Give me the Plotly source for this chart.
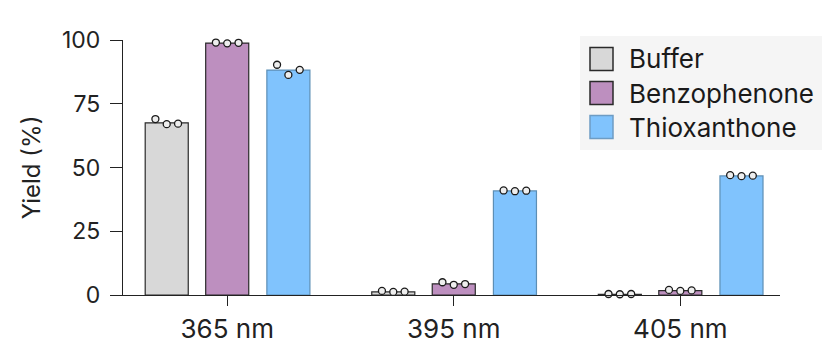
import plotly.graph_objects as go

categories = ["365 nm", "395 nm", "405 nm"]
series_names = ["Buffer", "Benzophenone", "Thioxanthone"]
bar_means = {
    "Buffer": [67.5, 1.2, 0.3],
    "Benzophenone": [98.8, 4.4, 1.7],
    "Thioxanthone": [88.2, 40.8, 46.7],
}
replicates = {
    "Buffer": [[69.0, 67.0, 67.2], [1.6, 1.2, 1.3], [0.4, 0.3, 0.4]],
    "Benzophenone": [[99.0, 98.7, 98.9], [5.0, 4.0, 4.3], [2.0, 1.6, 1.8]],
    "Thioxanthone": [[90.3, 86.3, 88.3], [41.0, 40.7, 40.9], [47.0, 46.6, 46.8]],
}
y_ticks = [0, 25, 50, 75, 100]

colors = {"Buffer": "#d8d8d8", "Benzophenone": "#bd8fbf", "Thioxanthone": "#80c3fd"}
edges = {"Buffer": "#2a2a2a", "Benzophenone": "#2a2a2a", "Thioxanthone": "#5d8fb5"}
offsets = {"Buffer": -0.267, "Benzophenone": 0.0, "Thioxanthone": 0.27}
pt_offsets = [-0.05, 0.0, 0.05]
bar_w = 0.19

fig = go.Figure()
for name in series_names:
    xs = [i + offsets[name] for i in range(len(categories))]
    fig.add_trace(go.Bar(
        x=xs, y=bar_means[name], width=bar_w, name=name, showlegend=False,
        marker=dict(color=colors[name], line=dict(color=edges[name], width=1.2)),
    ))
for name in series_names:
    px, py = [], []
    for i in range(len(categories)):
        for j, v in enumerate(replicates[name][i]):
            px.append(i + offsets[name] + pt_offsets[j])
            py.append(v)
    fig.add_trace(go.Scatter(
        x=px, y=py, mode="markers", showlegend=False, cliponaxis=False,
        marker=dict(size=7, color="#eeeeee", line=dict(color="#1a1a1a", width=1.3)),
    ))

# Custom legend (paper coords; plot area is 657 x 255 px)
PW, PH, L, B = 657.0, 255.0, 123.0, 295.0
def pxx(x):
    return (x - L) / PW
def pxy(y):
    return (B - y) / PH

shapes = [dict(type="rect", xref="paper", yref="paper", layer="below",
               x0=pxx(580), x1=pxx(822), y0=pxy(150), y1=pxy(36),
               fillcolor="#f5f5f5", line=dict(width=0))]
annotations = []
row_centers = [59, 93, 127]
for name, yc in zip(series_names, row_centers):
    shapes.append(dict(type="rect", xref="paper", yref="paper",
                       x0=pxx(590), x1=pxx(613), y0=pxy(yc + 11.5), y1=pxy(yc - 11.5),
                       fillcolor=colors[name], line=dict(color=edges[name] if name != "Thioxanthone" else "#6d9cc4", width=1.5)))
    annotations.append(dict(xref="paper", yref="paper", x=pxx(627), y=pxy(yc),
                            xanchor="left", yanchor="middle", showarrow=False,
                            text=name, font=dict(size=26, color="#1a1a1a")))

fig.update_layout(
    width=822, height=358,
    margin=dict(l=123, r=42, t=40, b=63),
    plot_bgcolor="white", paper_bgcolor="white",
    font=dict(family="Inter, Roboto, sans-serif", color="#222", size=18),
    showlegend=False,
    shapes=shapes, annotations=annotations,
)
fig.update_xaxes(
    range=[-0.46, 2.44], tickmode="array", tickvals=list(range(len(categories))),
    ticktext=categories, showgrid=False, zeroline=False,
    showline=True, linecolor="#222", linewidth=1.3,
    ticks="outside", ticklen=10, tickcolor="#222", tickwidth=1.3,
    tickfont=dict(size=26), ticklabelstandoff=1,
)
fig.update_yaxes(
    range=[0, 100], tickvals=y_ticks, showgrid=False, zeroline=False,
    showline=True, linecolor="#222", linewidth=1.3,
    ticks="outside", ticklen=12, tickcolor="#222", tickwidth=1.3,
    tickfont=dict(size=23), ticklabelstandoff=5,
    title=dict(text="Yield (%)", font=dict(size=24), standoff=14),
)
fig.write_html("out.html")
